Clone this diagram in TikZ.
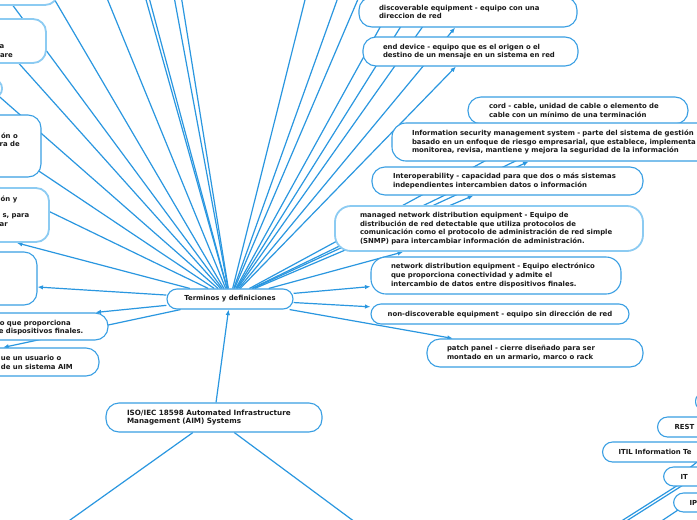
\documentclass[tikz,border=0pt]{standalone}
\usepackage{fontspec}
\setmainfont{DejaVu Sans}
\usetikzlibrary{arrows.meta,calc}
\pgfdeclarelayer{bg}
\pgfsetlayers{bg,main}
\definecolor{lnblue}{HTML}{2A97E0}
\definecolor{bdblue}{HTML}{3A9FE3}
\definecolor{ltblue}{HTML}{8CCBF2}
\definecolor{txtc}{HTML}{1A1A1A}
\newcommand{\nodefont}{\fontsize{6.9}{8.6}\selectfont\bfseries}
\newcommand{\isofont}{\fontsize{7.2}{8.8}\selectfont\bfseries}
\begin{document}
\begin{tikzpicture}[x=1pt,y=-1pt,
  box/.style={draw=bdblue, line width=1.1pt, fill=white, rounded corners=13pt,
    text=txtc, font=\nodefont, align=left, inner ysep=0pt, inner xsep=20pt},
  ltbox/.style={box, draw=ltblue, line width=1.8pt},
  emptybox/.style={inner sep=0pt},
  frag/.style={font=\nodefont, text=txtc, inner sep=0pt, anchor=base east},
  conn/.style={draw=lnblue, line width=1.2pt},
  arr/.style={conn, -{Latex[length=5.5pt,width=4.5pt]}},
]
\useasboundingbox (0,0) rectangle (697,520);

% ---------- left, partly hidden nodes ----------
\node[ltbox, emptybox, minimum width=258pt, minimum height=45pt] (L1) at (-71,-17.5) {};
\node[ltbox, emptybox, minimum width=196pt, minimum height=44pt] (L2) at (-52,41) {};
\node[ltbox, emptybox, minimum width=102pt, minimum height=17pt, rounded corners=8pt] (L3) at (-49,88.5) {};
\node[box, emptybox, minimum width=191pt, minimum height=62pt] (L4) at (-54.5,146) {};
\node[ltbox, emptybox, minimum width=276pt, minimum height=54pt] (L5) at (-89,215) {};
\node[box, emptybox, minimum width=274pt, minimum height=53pt] (L6) at (-100,278.5) {};
\node[box, emptybox, minimum width=306pt, minimum height=27pt] (L7) at (-45,326.5) {};
\node[box, emptybox, minimum width=328pt, minimum height=28pt] (L8) at (-65,362) {};

\node[frag] (f2a) at (4.5,48) {a};
\node[frag] (f2b) at (13,57) {are};
\node[frag] (f4a) at (18,138) {ón o};
\node[frag] (f4b) at (20,146) {ra de};
\node[frag] (f5a) at (17.5,201.5) {ón y};
\node[frag] (f5b) at (29.5,217) {s, para};
\node[frag] (f5c) at (8,226.5) {ar};
\node[frag] (f7a) at (71,325) {o que proporciona};
\node[frag] (f7b) at (83.5,333.5) {e dispositivos finales.};
\node[frag] (f8a) at (61.5,360.5) {ue un usuario o};
\node[frag] (f8b) at (73,369) {de un sistema AIM};

% ---------- central nodes ----------
\node[box, rounded corners=10pt, align=center, inner xsep=0pt, minimum width=126pt, minimum height=20pt] (term) at (230,299) {Terminos y definiciones};
\node[box, font=\isofont, inner xsep=21pt, text width=174pt, minimum height=29pt] (iso) at (214,417.5)
  {\mbox{ISO/IEC 18598 Automated Infrastructure}\\\mbox{Management (AIM) Systems}};

% ---------- right nodes ----------
\node[box, text width=178pt, minimum height=30pt] (disc) at (468,12)
  {\mbox{discoverable equipment - equipo con una}\\\mbox{direccion de red}};
\node[box, text width=175pt, minimum height=29pt] (endd) at (470.5,51.5)
  {\mbox{end device - equipo que es el origen o el}\\\mbox{destino de un mensaje en un sistema en red}};
\node[box, inner xsep=21pt, text width=178pt, minimum height=27pt] (cord) at (578,110.5)
  {\mbox{cord - cable, unidad de cable o elemento de}\\\mbox{cable con un mínimo de una terminación}};
\node[box, rounded corners=14pt, text width=318pt, minimum height=38pt] (isms) at (571,142)
  {\mbox{Information security management system - parte del sistema de gestión}\\\mbox{basado en un enfoque de riesgo empresarial, que establece, implementa}\\\mbox{monitorea, revisa, mantiene y mejora la seguridad de la información}};
\node[box, inner xsep=21pt, text width=229pt, minimum height=28pt] (interop) at (507.5,181)
  {\mbox{Interoperability - capacidad para que dos o más sistemas}\\\mbox{independientes intercambien datos o información}};
\node[ltbox, rounded corners=16pt, inner xsep=25pt, text width=258pt, minimum height=45pt] (managed) at (489,228.5)
  {\mbox{managed network distribution equipment - Equipo de}\\\mbox{distribución de red detectable que utiliza protocolos de}\\\mbox{comunicación como el protocolo de administración de red simple}\\\mbox{(SNMP) para intercambiar información de administración.}};
\node[box, rounded corners=15pt, text width=210pt, minimum height=37pt] (netdist) at (496,275.5)
  {\mbox{network distribution equipment - Equipo electrónico}\\\mbox{que proporciona conectividad y admite el}\\\mbox{intercambio de datos entre dispositivos finales.}};
\node[box, rounded corners=10pt, align=center, inner xsep=0pt, minimum width=258pt, minimum height=20pt] (nondisc) at (500,314)
  {non-discoverable equipment - equipo sin dirección de red};
\node[box, text width=176pt, minimum height=28pt] (patch) at (535,353)
  {\mbox{patch panel - cierre diseñado para ser}\\\mbox{montado en un armario, marco o rack}};

% ---------- bottom right, partly hidden ----------
\node[box, emptybox, anchor=west, rounded corners=8pt, minimum width=110pt, minimum height=17pt] (smtr) at (695,401.5) {};
\node[box, anchor=west, rounded corners=10pt, inner xsep=17pt, text width=90pt, minimum height=20pt] (rest) at (657,427) {REST};
\node[box, anchor=west, rounded corners=10pt, inner xsep=16pt, text width=200pt, minimum height=20pt] (itil) at (602,452) {ITIL Information Te};
\node[box, anchor=west, rounded corners=10pt, inner xsep=17pt, text width=80pt, minimum height=19pt] (it) at (663,476.5) {IT};
\node[box, anchor=west, rounded corners=10pt, inner xsep=16pt, text width=80pt, minimum height=19pt] (ip) at (673,502.5) {IP};

% ---------- connectors ----------
\begin{pgfonlayer}{bg}
\fill[white] (0,0) rectangle (697,520);
\coordinate (u1) at (-20,-39);
\coordinate (u2) at (36,-32);
\coordinate (u3) at (-11,30);
\coordinate (u4) at (-23,77);
\coordinate (u5) at (-21,131);
\coordinate (u6) at (-22,177);
\coordinate (u7) at (93,-36);
\coordinate (u8) at (136,-36);
\coordinate (u9) at (140,-36);
\coordinate (u10) at (168,-36);
\coordinate (u11) at (176,-36);
\coordinate (u12) at (314,-36);
\coordinate (u13) at (350,-36);
\coordinate (u14) at (373,-36);
\coordinate (u15) at (415,-36);
\coordinate (u16) at (440,-36);
\coordinate (u17) at (467,-36);
\coordinate (xr1) at (590,125);
\foreach \c in {u1,u2,u3,u4,u5,u6,u7,u8,u9,u10,u11,u12,u13,u14,u15,u16,u17,xr1}
  \draw[conn] (term) -- (\c);

\foreach \n in {L5,L6,L7,L8,disc,endd,cord,isms,interop,managed,netdist,nondisc,patch}
  \draw[arr] (term) -- (\n);

\draw[arr] (iso) -- (term);
\coordinate (isol) at (35,545);
\coordinate (isor) at (386,545);
\draw[conn] (iso) -- (isol);
\draw[conn] (iso) -- (isor);

\coordinate (a1s) at (571,553);
\coordinate (a1e) at (779,421);
\coordinate (a2s) at (576,553);
\coordinate (a2e) at (784,421);
\coordinate (c1) at (678,477);
\coordinate (c2) at (706,455);
\coordinate (p1) at (627,544);
\coordinate (p2) at (705,492);
\draw[conn] (a1s) -- (a1e);
\draw[conn] (a2s) -- (a2e);
\draw[conn] (c1) -- (c2);
\draw[conn] (p1) -- (p2);
\end{pgfonlayer}
\end{tikzpicture}
\end{document}
